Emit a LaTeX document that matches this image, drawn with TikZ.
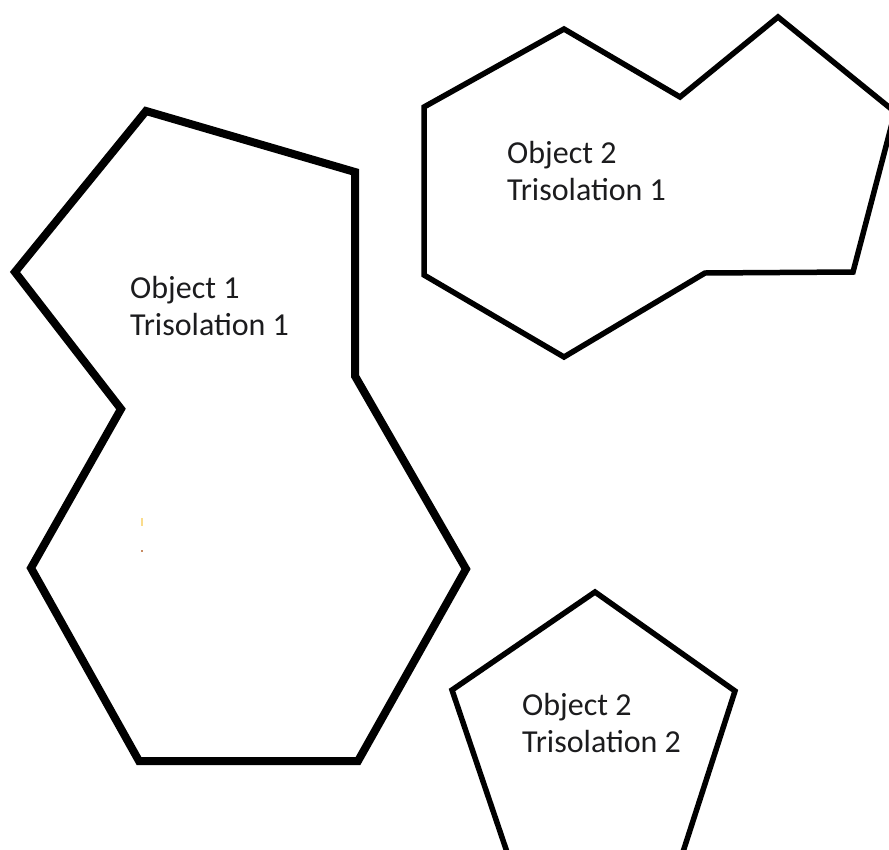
\documentclass[tikz,border=0pt]{standalone}
\usepackage{fontspec}
\setmainfont{Carlito}
\definecolor{txtc}{RGB}{28,28,30}
\definecolor{dotyel}{RGB}{250,220,140}
\definecolor{dotbrn}{RGB}{200,140,100}
\begin{document}
\begin{tikzpicture}[x=1pt,y=-1pt,
  thickpoly/.style={draw=black,line width=8pt,line join=miter},
  thinpoly/.style={draw=black,line width=5.5pt,line join=miter},
  lbl/.style={anchor=base west,inner sep=0pt,text=txtc,font=\fontsize{32}{37}\selectfont}]
\useasboundingbox (0,0) rectangle (889,849);
\fill[white] (0,0) rectangle (889,849);
\clip (0,0) rectangle (889,849);
% Object 1, Trisolation 1
\draw[thickpoly] (146,111) -- (355,172) -- (355,376) -- (466,569) -- (358,761)
  -- (139,761) -- (31,568) -- (121,409) -- (15,272) -- cycle;
% Object 2, Trisolation 1
\draw[thinpoly] (424,107) -- (564,29) -- (680,97) -- (778,17) -- (895,112)
  -- (853,272) -- (705,273) -- (564,357) -- (424,275) -- cycle;
% Object 2, Trisolation 2
\draw[thinpoly] (595,592) -- (735,691) -- (682,855) -- (508,855) -- (452,690) -- cycle;
% stray specks
\fill[dotyel] (141,518) rectangle (143,526);
\fill[dotbrn] (141,550) rectangle (143,552);
% labels
\node[lbl] (o1a) at (130,298) {Object 1};
\node[lbl] (o1b) at (130,335) {Trisolation 1};
\node[lbl] (o2a) at (507,163) {Object 2};
\node[lbl] (o2b) at (507,200) {Trisolation 1};
\node[lbl] (o3a) at (522,715) {Object 2};
\node[lbl] (o3b) at (522,752) {Trisolation 2};
\end{tikzpicture}
\end{document}
